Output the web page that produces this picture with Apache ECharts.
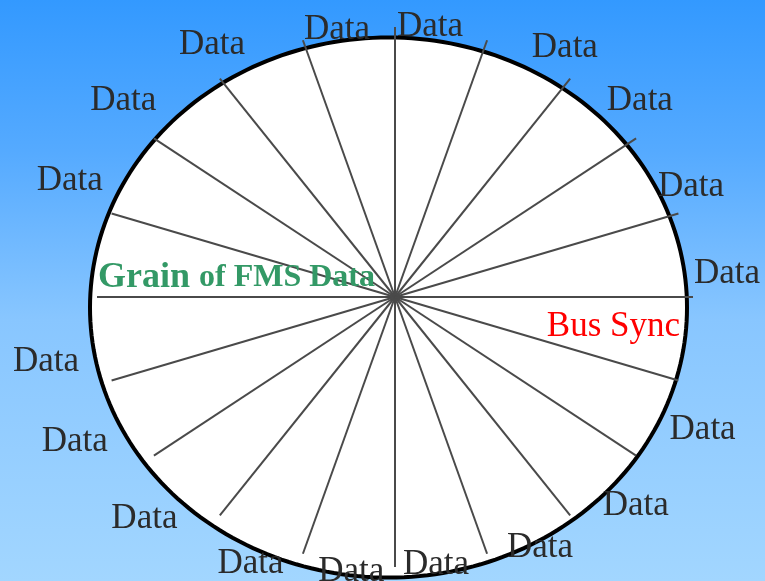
<!DOCTYPE html>
<html>
<head>
<meta charset="utf-8">
<script src="https://cdn.jsdelivr.net/npm/echarts@6/dist/echarts.min.js"></script>
<style>html,body{margin:0;padding:0;background:#fff;}#main{width:765px;height:581px;}</style>
</head>
<body>
<div id="main"></div>
<script>
// ---- data: sector labels, counter-clockwise starting at 3 o'clock ----
const sectorLabels = [
  'Data','Data','Data','Data','Data','Data','Data','Data','Data',
  'Grain of FMS Data',
  'Data','Data','Data','Data','Data','Data','Data','Data','Data',
  'Bus Sync'
];

// ---- layout (not data) ----
const W = 765, H = 581;
const CX = 395, CY = 297, RX = 298, RY = 270;      // hub of spokes and unit scale in px
const ELL = { cx: -0.0218, cy: -0.0389, rx: 1.0017, ry: 1.0 }; // outline in unit coords
const labelAngleShift = [-4.1,-4.1,-3.1,-4.4,2.4,2.0,6.0,6.0,5.0,4.3,2.0,-1.0,-1.0,0.6,0.7,-1.0,0.9,1.7,2.0,1.2];
const labelRadius     = [1.118,1.078,1.104,1.094,1.02,1.02,1.128,1.173,1.177,1.0,1.193,1.196,1.169,1.09,1.016,0.99,1.04,1.11,1.139,0.74];
const TEXT_DY = 3;

const SERIF = "'Liberation Serif','Times New Roman',serif";
const N = sectorLabels.length;
const step = 2 * Math.PI / N;

function labelStyle(text) {
  if (text === 'Grain of FMS Data') {
    return {
      text: '{a|Grain} {b|of FMS Data}',
      fontFamily: SERIF, fontSize: 36, fontWeight: 'bold', fill: '#339966',
      align: 'left', verticalAlign: 'middle',
      rich: {
        a: { fontFamily: SERIF, fontSize: 36, fontWeight: 'bold', fill: '#339966' },
        b: { fontFamily: SERIF, fontSize: 32, fontWeight: 'bold', fill: '#339966' }
      }
    };
  }
  if (text === 'Bus Sync') {
    return { text, fontFamily: SERIF, fontSize: 35, fill: '#ff0000', align: 'center', verticalAlign: 'middle' };
  }
  return { text, fontFamily: SERIF, fontSize: 35, fill: '#2b2b2b', align: 'center', verticalAlign: 'middle' };
}

const idxData = sectorLabels.map((_, i) => [0, 0, i]);

const chart = echarts.init(document.getElementById('main'), null, { renderer: 'canvas' });
chart.setOption({
  animation: false,
  backgroundColor: {
    type: 'linear', x: 0, y: 0, x2: 0, y2: 1,
    colorStops: [
      { offset: 0, color: '#3399ff' },
      { offset: 0.26, color: '#55aaff' },
      { offset: 0.55, color: '#88c6ff' },
      { offset: 1, color: '#a2d6ff' }
    ]
  },
  grid: { left: 0, right: 0, top: 0, bottom: 0, containLabel: false },
  xAxis: { type: 'value', min: -CX / RX, max: (W - CX) / RX, show: false },
  yAxis: { type: 'value', min: -(H - CY) / RY, max: CY / RY, show: false },
  tooltip: { show: false },
  series: [
    {
      type: 'custom', silent: true, clip: false,
      data: [[0, 0]],
      renderItem: function (params, api) {
        const pts = [];
        for (let k = 0; k < 240; k++) {
          const t = k / 240 * 2 * Math.PI;
          pts.push(api.coord([ELL.cx + ELL.rx * Math.cos(t), ELL.cy + ELL.ry * Math.sin(t)]));
        }
        return { type: 'polygon', shape: { points: pts }, style: { fill: '#ffffff', stroke: '#000000', lineWidth: 4 } };
      }
    },
    {
      type: 'custom', silent: true, clip: false,
      data: idxData,
      renderItem: function (params, api) {
        const i = api.value(2);
        const a = i * step;
        const p0 = api.coord([0, 0]);
        const p1 = api.coord([Math.cos(a), Math.sin(a)]);
        return { type: 'line', shape: { x1: p0[0], y1: p0[1], x2: p1[0], y2: p1[1] },
                 style: { stroke: '#4a4a4a', lineWidth: 2 } };
      }
    },
    {
      type: 'custom', silent: true, clip: false,
      data: idxData,
      renderItem: function (params, api) {
        const i = api.value(2);
        const a = (i + 0.5) * step + labelAngleShift[i] * Math.PI / 180;
        const r = labelRadius[i];
        const p = api.coord([r * Math.cos(a), r * Math.sin(a)]);
        return { type: 'text', x: p[0], y: p[1] + TEXT_DY, style: labelStyle(sectorLabels[i]) };
      }
    }
  ]
});
</script>
</body>
</html>
